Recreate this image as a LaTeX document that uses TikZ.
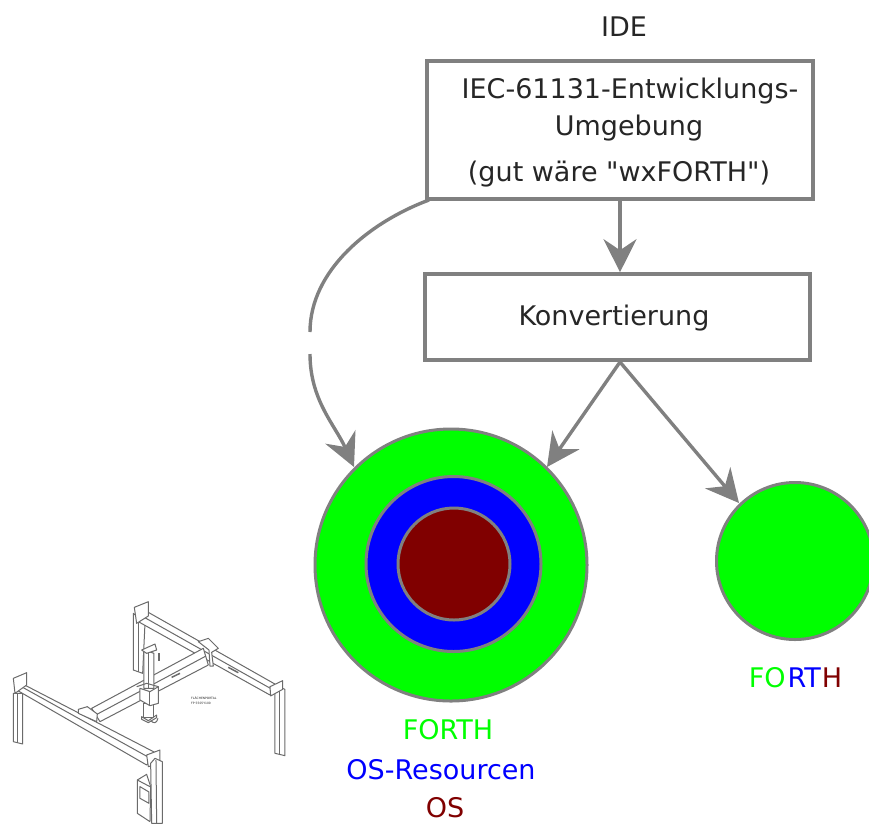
\documentclass[tikz,border=0pt]{standalone}
\usepackage{fontspec}
\newfontfamily\labfont{DejaVu Sans}
\setmainfont{DejaVu Sans}
\usetikzlibrary{arrows.meta}
\definecolor{lg}{RGB}{128,128,128}
\definecolor{fgreen}{RGB}{0,255,0}
\definecolor{fblue}{RGB}{0,0,255}
\definecolor{fred}{RGB}{128,0,0}
\tikzset{
  flowbox/.style={draw=lg,line width=3.6pt,fill=white,inner sep=0pt},
  conn/.style={draw=lg,line width=3.4pt,-{Stealth[length=33pt,width=33pt,inset=11pt]}},
  ring/.style={circle,draw=lg,line width=3pt,inner sep=0pt},
  lab/.style={font=\labfont\fontsize{27}{32}\selectfont,text=black!85,inner sep=0pt,anchor=base},
  pl/.style={draw=black!58,line width=1pt,line join=round},
  pf/.style={pl,fill=white},
}
\begin{document}
\begin{tikzpicture}[x=1pt,y=-1pt]
\useasboundingbox (0,0) rectangle (869,823);
\clip (0,0) rectangle (869,823);

% boxes
\node[flowbox,minimum width=386pt,minimum height=138pt] (ide) at (620,130) {};
\node[flowbox,minimum width=385pt,minimum height=86pt] (konv) at (617.5,317) {};
\node[lab] (idet) at (624,36) {IDE};
\node[lab] (t1) at (630,98) {IEC-61131-Entwicklungs-};
\node[lab] (t2) at (629,135) {Umgebung};
\node[lab] (t3) at (619,181) {(gut wäre "wxFORTH")};
\node[lab] (t4) at (614,325) {Konvertierung};

% circles
\node[ring,fill=fgreen,minimum size=272pt] (outer) at (451,565) {};
\node[ring,fill=fblue,minimum size=175pt] (mid) at (453.5,564) {};
\node[ring,fill=fred,minimum size=112pt] (core) at (454,564) {};
\node[ring,fill=fgreen,minimum size=157pt] (small) at (795,561) {};

% connector anchors
\coordinate (a1) at (429,200);
\coordinate (g1) at (310,332);
\coordinate (g2) at (310,354);
\coordinate (a1e) at (354,467);
\coordinate (a2s) at (620,362);
\coordinate (a2e) at (547,467);
\coordinate (a3e) at (739,503);

% connectors
\draw[conn] (ide.south -| 620,0) -- (konv.north -| 620,0);
\draw[conn] (a2s) -- (a2e);
\draw[conn] (a2s) -- (a3e);
\draw[draw=lg,line width=3.4pt] (a1) .. controls (370,222) and (310,270) .. (g1);
\draw[conn] (g2) .. controls (310,400) and (335,425) .. (a1e);

% labels
\node[lab,text=fgreen] (l1) at (448,739) {FORTH};
\node[lab,text=fblue] (l2) at (441,779) {OS-Resourcen};
\node[lab,text=fred] (l3) at (445,817) {OS};
\node[lab] (l4) at (795.5,687) {\textcolor{fgreen}{FO}\kern2pt\textcolor{fblue}{RT}\kern1pt\textcolor{fred}{H}};

% portal
\begin{scope}[shift={(0,590)},x=0.3333pt,y=-0.3333pt]
% back left post
\draw[pf] (400,70) -- (400,240) -- (428,250) -- (435,100) -- cycle;
\draw[pl] (415,100) -- (415,245);
% back beam
\draw[pf] (415,50) -- (830,285) -- (810,315) -- (415,95) -- cycle;
\draw[pl] (415,72) -- (820,300);
\draw[pf] (403,52) -- (445,35) -- (445,78) -- (410,100) -- cycle;
% right post
\draw[pf] (825,310) -- (825,490) -- (855,497) -- (855,298) -- (840,292) -- cycle;
\draw[pl] (838,300) -- (838,492);
\draw[pf] (810,290) -- (848,272) -- (848,298) -- (812,318) -- cycle;
% cross beam
\draw[pf] (275,355) -- (610,175) -- (625,225) -- (300,395) -- cycle;
\draw[pl] (287,375) -- (618,198);
% back carriage
\draw[pf] (595,155) -- (625,145) -- (655,175) -- (635,187) -- (640,228) -- (630,228) -- (627,180) -- cycle;
% marks
\draw[pl,line width=1.5pt] (685,232) -- (715,248);
\draw[pl,line width=1.5pt] (515,262) -- (540,250);
% left post
\draw[pf] (40,310) -- (40,455) -- (68,462) -- (68,310) -- cycle;
\draw[pl] (54,310) -- (54,458);
% front beam
\draw[pf] (45,270) -- (470,490) -- (440,525) -- (50,300) -- cycle;
\draw[pl] (50,282) -- (455,507);
\draw[pf] (40,265) -- (80,248) -- (80,285) -- (45,310) -- cycle;
% front carriage
\draw[pf] (235,358) -- (262,350) -- (292,372) -- (290,395) -- (235,370) -- cycle;
% control box
\draw[pf] (412,570) -- (440,553) -- (452,590) -- (450,695) -- (412,670) -- cycle;
\draw[pl] (412,570) -- (450,590);
\draw[pf] (420,590) -- (447,606) -- (447,640) -- (420,625) -- cycle;
% front right post
\draw[pf] (440,495) -- (480,480) -- (480,520) -- (445,530) -- cycle;
\draw[pf] (452,520) -- (465,505) -- (487,515) -- (487,700) -- (455,700) -- cycle;
\draw[pl] (468,510) -- (470,700);
% z column
\draw[pf] (432,180) -- (432,295) -- (462,295) -- (462,190) -- cycle;
\draw[pl] (447,190) -- (447,295);
\draw[pf] (425,180) -- (465,162) -- (470,180) -- (440,190) -- cycle;
\draw[pf] (432,340) -- (432,382) -- (460,382) -- (460,340) -- cycle;
\draw[pf] (425,380) -- (445,392) -- (470,375) -- (470,383) -- (445,398) -- (425,388) -- cycle;
\draw[pf] (420,295) -- (450,305) -- (475,290) -- (475,340) -- (450,347) -- (420,330) -- cycle;
\draw[pl] (450,305) -- (450,347);
\draw[pl] (410,290) -- (440,280) -- (475,290);
% rotation mark
\draw[pl] (452,392) .. controls (462,402) and (470,400) .. (474,385);
\draw[pl,line width=1.5pt] (477,190) -- (477,212);
\end{scope}

\node[font=\labfont\fontsize{3}{4.4}\selectfont,align=left,text=black!85,inner sep=0pt,anchor=north west] (cap) at (191,697) {FLÄCHENPORTAL\\FP 5505Y100};
\end{tikzpicture}
\end{document}
